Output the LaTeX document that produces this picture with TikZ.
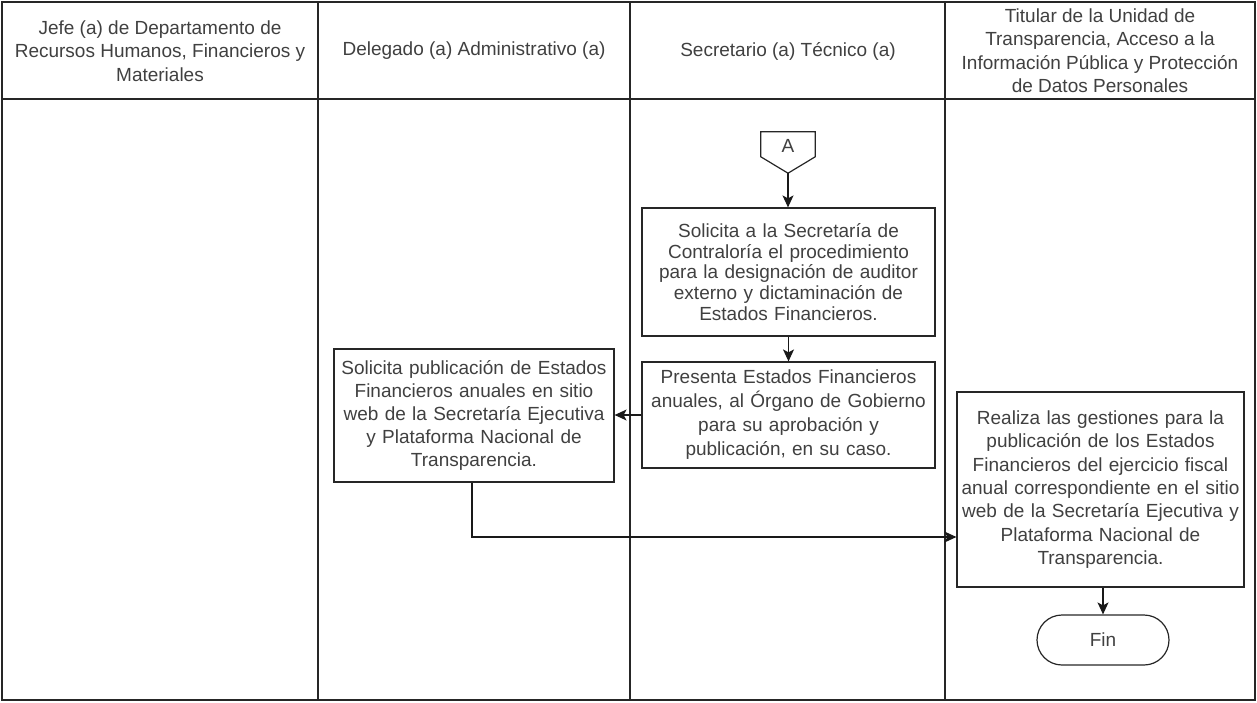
\documentclass[tikz,border=0pt]{standalone}
\usepackage{fontspec}
\setmainfont{Liberation Sans}
\usetikzlibrary{arrows.meta,calc}
\begin{document}
\begin{tikzpicture}[x=1pt,y=-1pt,
  lane/.style={line width=1.3pt,draw=black!85},
  box/.style={draw=black!85,line width=1.2pt,align=center,text=black!75,inner sep=0pt,
     font=\fontsize{19}{23}\selectfont},
  hdr/.style={align=center,text=black!75,font=\fontsize{19}{23.5}\selectfont},
  arr/.style={line width=1.2pt,draw=black!90,-{Stealth[length=12pt,width=11pt,inset=3pt]}},
  conn/.style={minimum width=54pt,minimum height=41pt,inner sep=0pt}]
\useasboundingbox (0,0) rectangle (1257,702);
% lanes
\draw[lane] (2,2) rectangle (1255,700);
\draw[lane] (2,99) -- (1255,99);
\foreach \x in {318,630,945} \draw[lane] (\x,2) -- (\x,700);
% headers
\node[hdr] (h1) at (160,51) {Jefe (a) de Departamento de\\Recursos Humanos, Financieros y\\Materiales};
\node[hdr] (h2) at (474,51) {Delegado (a) Administrativo (a)};
\node[hdr] (h3) at (788,51) {Secretario (a) Técnico (a)};
\node[hdr] (h4) at (1100,50.5) {Titular de la Unidad de\\Transparencia, Acceso a la\\Información Pública y Protección\\de Datos Personales};
% connector A
\node[conn] (A) at (788,152.5) {};
\draw[draw=black!85,line width=1.2pt] (A.north west) -- (A.north east) -- ($(A.north east)+(0,25)$) -- (A.south) -- ($(A.north west)+(0,25)$) -- cycle;
\node[text=black!75,font=\fontsize{19}{23}\selectfont] (Alabel) at (788,146) {A};
% boxes
\node[box,minimum width=293pt,minimum height=128pt,text width=289pt,font=\fontsize{19}{20.8}\selectfont] (b1) at (788.5,272)
  {Solicita a la Secretaría de\\Contraloría el procedimiento\\para la designación de auditor\\externo y dictaminación de\\Estados Financieros.};
\node[box,minimum width=293pt,minimum height=106pt,text width=289pt,font=\fontsize{19}{24}\selectfont] (b2) at (788.5,415)
  {Presenta Estados Financieros\\anuales, al Órgano de Gobierno\\para su aprobación y\\publicación, en su caso.};
\node[box,minimum width=280pt,minimum height=133pt,text width=276pt,font=\fontsize{19}{23}\selectfont] (b3) at (474,415.5)
  {Solicita publicación de Estados\\Financieros anuales en sitio\\web de la Secretaría Ejecutiva\\y Plataforma Nacional de\\Transparencia.};
\node[box,minimum width=287pt,minimum height=195pt,text width=283pt,font=\fontsize{19}{23.3}\selectfont] (b4) at (1100.5,489.5)
  {Realiza las gestiones para la\\publicación de los Estados\\Financieros del ejercicio fiscal\\anual correspondiente en el sitio\\web de la Secretaría Ejecutiva y\\Plataforma Nacional de\\Transparencia.};
\node[box,minimum width=132pt,minimum height=50pt,rounded corners=25pt] (fin) at (1103,640) {Fin};
% arrows
\draw[arr] (A.south) -- (b1.north -| A.south);
\draw[arr] (b1.south) -- (b2.north);
\draw[arr] (b2.west |- 0,415) -- (b3.east |- 0,415);
\draw[arr] (b3.south -| 472,0) -- (472,537) -- (b4.west |- 0,537);
\draw[arr] (b4.south -| fin.north) -- (fin.north);
\end{tikzpicture}
\end{document}
